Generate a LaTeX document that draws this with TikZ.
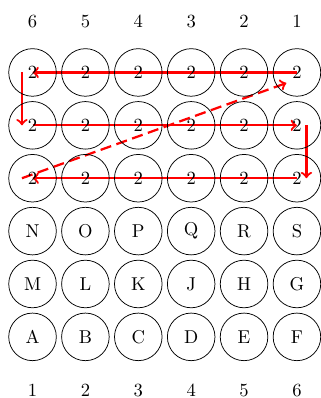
\documentclass[tikz,border=0pt]{standalone}
\usetikzlibrary{backgrounds}
\begin{document}
\begin{tikzpicture}[
  cell/.style={draw, circle, minimum size=0.9cm, inner sep=0pt},
  redarrow/.style={red, very thick, ->},
  reddash/.style={red, very thick, ->, dash pattern=on 6pt off 3pt},
  ]
\useasboundingbox (0,0) rectangle (6.07,-7.526);
\foreach \c in {1,...,6} {
  \pgfmathtruncatemacro\t{7-\c}
  \node (top\c) at (\c-0.385,-0.40) {\t};
  \node (bot\c) at (\c-0.385,-7.38) {\c};
  \foreach \r in {1,2,3} {
    \node[cell] (n\r\c) at (\c-0.385,-0.37-\r) {2};
  }
}
\foreach \l [count=\c] in {N,O,P,Q,R,S} \node[cell] (n4\c) at (\c-0.385,-4.37) {\l};
\foreach \l [count=\c] in {M,L,K,J,H,G} \node[cell] (n5\c) at (\c-0.385,-5.37) {\l};
\foreach \l [count=\c] in {A,B,C,D,E,F} \node[cell] (n6\c) at (\c-0.385,-6.37) {\l};
\begin{scope}[on background layer]
\draw[redarrow] (n16.center) -- (n11.center);
\draw[redarrow] ([xshift=-0.2cm]n11.center) -- ([xshift=-0.2cm]n21.center);
\draw[redarrow] (n21.center) -- (n26.center);
\draw[redarrow] ([xshift=0.18cm]n26.center) -- ([xshift=0.18cm]n36.center);
\draw[redarrow] (n36.center) -- (n31.center);
\draw[reddash] ([xshift=-0.2cm]n31.center) -- ([xshift=-0.2cm,yshift=-0.2cm]n16.center);
\end{scope}
\end{tikzpicture}
\end{document}
